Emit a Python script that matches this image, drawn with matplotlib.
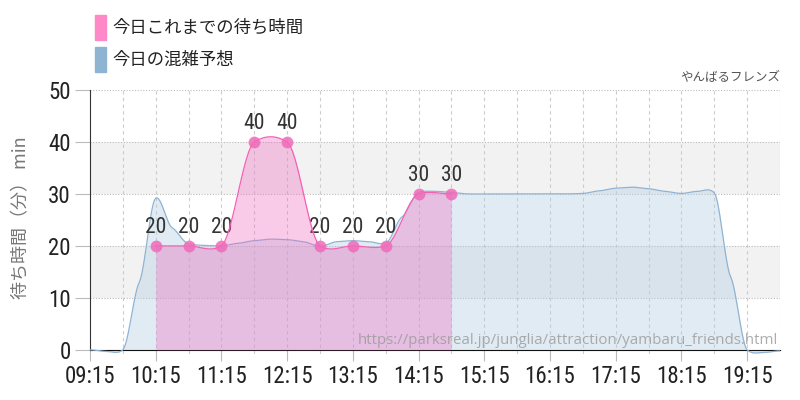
import numpy as np
import matplotlib
matplotlib.use("Agg")
import matplotlib.pyplot as plt
from matplotlib.patches import Rectangle
import logging
logging.getLogger("matplotlib.font_manager").setLevel(logging.ERROR)

# forecast (every 15 min) and today's actual waits
blue_times = ["09:15", "09:30", "09:45", "10:00", "10:15", "10:30", "10:45", "11:00",
              "11:15", "11:30", "11:45", "12:00", "12:15", "12:30", "12:45", "13:00",
              "13:15", "13:30", "13:45", "14:00", "14:15", "14:30", "14:45", "15:00",
              "15:15", "15:30", "15:45", "16:00", "16:15", "16:30", "16:45", "17:00",
              "17:15", "17:30", "17:45", "18:00", "18:15", "18:30", "18:45", "19:00",
              "19:15", "19:30", "19:45"]
blue_vals = [0, -0.3, 0, 13, 29.2, 23.5, 20.4, 20.1,
             20.0, 20.5, 21.0, 21.3, 21.2, 20.8, 19.9, 20.8,
             21.0, 20.8, 20.5, 25.6, 30.3, 30.5, 30.3, 30.0,
             30.0, 30.0, 30.0, 30.0, 30.0, 30.0, 30.1, 30.6,
             31.1, 31.3, 31.0, 30.5, 30.1, 30.5, 30.2, 14,
             0, -0.5, -0.2]

pink_times = ["10:15", "10:45", "11:15", "11:45", "12:15", "12:45", "13:15", "13:45", "14:15", "14:45"]
pink_vals = [20, 20, 20, 40, 40, 20, 20, 20, 30, 30]

tick_labels = ["09:15", "10:15", "11:15", "12:15", "13:15", "14:15", "15:15",
               "16:15", "17:15", "18:15", "19:15"]
legend_labels = ["今日これまでの待ち時間", "今日の混雑予想"]


def to_h(s):
    h, m = s.split(":")
    return int(h) + int(m) / 60


def smooth(x, y, tension=0.4, n=12):
    # cardinal spline through the points
    x = np.asarray(x, float)
    y = np.asarray(y, float)
    m = np.zeros_like(y)
    m[1:-1] = tension * (y[2:] - y[:-2]) / 2
    t = np.linspace(0, 1, n, endpoint=False)
    h00 = 2 * t ** 3 - 3 * t ** 2 + 1
    h10 = t ** 3 - 2 * t ** 2 + t
    h01 = -2 * t ** 3 + 3 * t ** 2
    h11 = t ** 3 - t ** 2
    xs, ys = [], []
    for i in range(len(x) - 1):
        ys.append(h00 * y[i] + h10 * m[i] + h01 * y[i + 1] + h11 * m[i + 1])
        xs.append(x[i] + (x[i + 1] - x[i]) * t)
    xs.append([x[-1]])
    ys.append([y[-1]])
    return np.concatenate(xs), np.concatenate(ys)


num_font = ["Roboto Condensed", "Liberation Sans Narrow", "DejaVu Sans"]
jp_font = ["Noto Sans CJK JP", "DejaVu Sans"]

bx = [to_h(t) for t in blue_times]
px = [to_h(t) for t in pink_times]

fig = plt.figure(figsize=(8, 4), dpi=100)
ax = fig.add_axes([0.1125, 0.115, 0.8625, 0.66])

x0, x1 = to_h("09:15"), to_h("19:45")
ax.set_xlim(x0, x1)
ax.set_ylim(-0.8, 50)

# bands + grid
for lo in (10, 30):
    ax.axhspan(lo, lo + 10, color="#f2f2f2", zorder=0, lw=0)
for v in range(10, 51, 10):
    ax.axhline(v, color="#bbbbbb", lw=0.8, ls=(0, (1, 1.5)), zorder=1)
for xv in np.arange(x0 + 0.5, x1 + 0.01, 0.5):
    ax.axvline(xv, color="#cccccc", lw=0.8, ls=(0, (3, 3)), zorder=1)

# forecast
sbx, sby = smooth(bx, blue_vals)
ax.fill_between(sbx, sby, 0, color="#b3cde3", alpha=0.4, lw=0, zorder=2)
ax.plot(sbx, sby, color="#8fb3d3", lw=0.9, zorder=3)

# actual
spx, spy = smooth(px, pink_vals)
ax.fill_between(spx, spy, 0, color="#f068c0", alpha=0.34, lw=0, zorder=4)
ax.plot(spx, spy, color="#f560b4", lw=0.9, zorder=5)
ax.plot(px, pink_vals, "o", ms=8.5, color="#f06ab8", alpha=0.85, mec="none", zorder=6)
for xv, yv in zip(px, pink_vals):
    ax.annotate(str(yv), (xv, yv), xytext=(0, 13.5), textcoords="offset points",
                ha="center", va="center", fontsize=15.5, color="#333333", family=num_font)

# axes
for s in ("top", "right"):
    ax.spines[s].set_visible(False)
ax.spines["bottom"].set_position(("data", 0))
ax.spines["bottom"].set_bounds(x0, x1)
ax.spines["left"].set_bounds(0, 50)
ax.spines["left"].set_color("#333333")
ax.spines["bottom"].set_color("#111111")
ax.set_yticks(range(0, 51, 10))
ax.set_xticks([to_h(t) for t in tick_labels])
ax.set_xticklabels(tick_labels)
ax.tick_params(axis="y", length=11, color="#bbbbbb", pad=3, labelsize=16.5, labelcolor="#222222")
ax.tick_params(axis="x", length=8, color="#bbbbbb", pad=3, labelsize=16.5, labelcolor="#222222")
for lab in ax.get_xticklabels() + ax.get_yticklabels():
    lab.set_family(num_font)

fig.text(0.027, 0.455, "待ち時間（分） min", rotation=90, ha="center", va="center",
         fontsize=13, color="#777777", family=jp_font)
fig.text(0.975, 0.805, "やんばるフレンズ", ha="right", va="center",
         fontsize=9, color="#555555", family=jp_font)
ax.text(0.997, 0.05, "https://parksreal.jp/junglia/attraction/yambaru_friends.html",
        transform=ax.transAxes, ha="right", va="center", fontsize=10.8,
        color="#999999", alpha=0.8, family=["Open Sans", "DejaVu Sans"], zorder=7)

# legend
for i, (lab, col) in enumerate(zip(legend_labels, ["#ff88c8", "#8fb3d3"])):
    ytop = 15 + i * 32
    fig.patches.append(Rectangle((95 / 800, 1 - (ytop + 25) / 400), 11 / 800, 25 / 400,
                                 transform=fig.transFigure, color=col))
    fig.text(112 / 800, 1 - (ytop + 12.5) / 400, lab, ha="left", va="center",
             fontsize=12.5, color="#222222", family=jp_font)

fig.savefig("out.png", dpi=100)
